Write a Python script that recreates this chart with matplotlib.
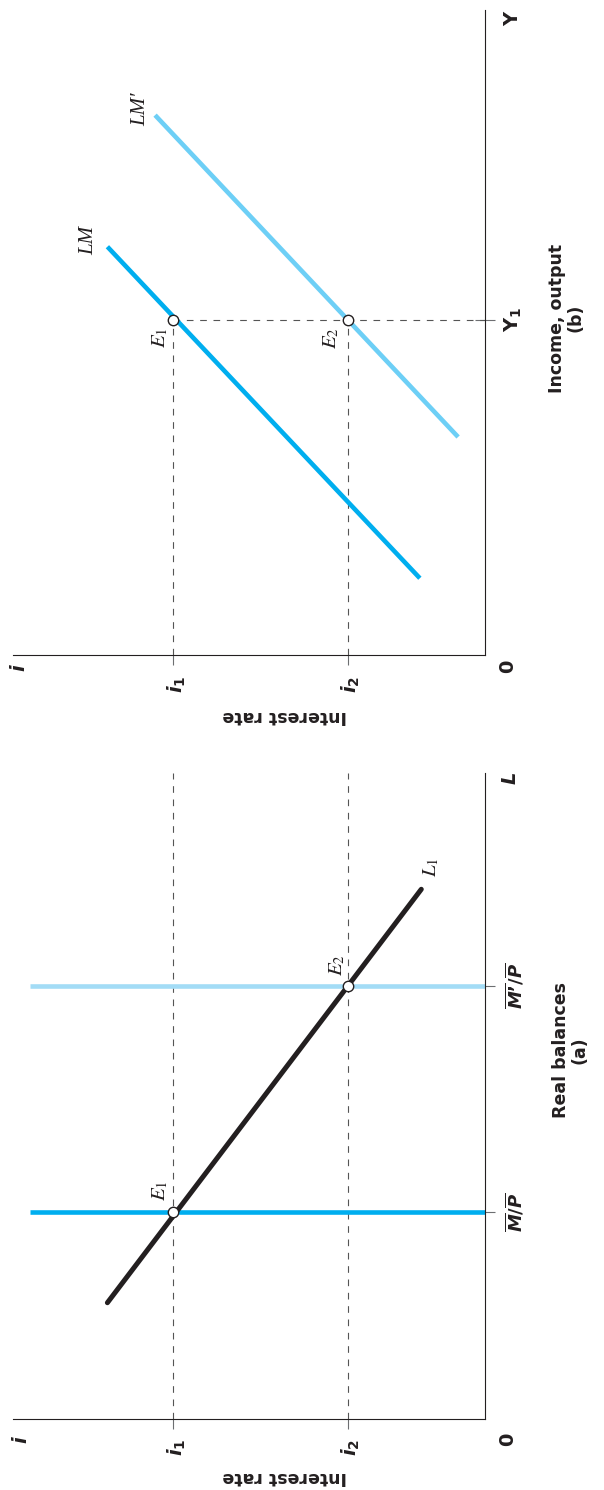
import matplotlib
matplotlib.use("Agg")
import matplotlib.pyplot as plt

plt.rcParams['mathtext.fontset'] = 'stix'
plt.rcParams['mathtext.rm'] = 'DejaVu Sans:bold'
plt.rcParams['mathtext.it'] = 'DejaVu Sans:italic:bold'
plt.rcParams['mathtext.bf'] = 'DejaVu Sans:bold'
plt.rcParams['font.family'] = ['DejaVu Sans']

# ---------------- data ----------------
i_levels = [6.6, 2.9]                 # i1, i2 (interest rate)
i_labels = [r'$i_1$', r'$i_2$']
# panel (a): real balances
real_supply = [3.2, 6.7]              # M/P, M'/P
supply_labels = ['$\\overline{M}/\\overline{P}$', '$\\overline{M\u2019}/\\overline{P}$']
supply_top_i = 9.65
L1_i = [8.0, 1.35]
L1_L = [1.8, 8.2]
# panel (b): income
Y1 = 5.2
LM_i = [1.38, 8.0]
LM_Y = [1.19, 6.33]
LMp_i = [0.57, 6.99]
LMp_Y = [3.38, 8.37]

BLACK = '#231f20'
BLUE = '#00aeef'
LIGHT = '#6dcff6'
PALE = '#a3dcf6'
DASH = '#555555'
TICK = '#6d6e71'

W, H = 604, 1490
fig = plt.figure(figsize=(W / 100, H / 100), dpi=100)

axa = fig.add_axes([13 / W, 71 / H, 472 / W, 646 / H])
axb = fig.add_axes([13 / W, 835 / H, 472 / W, 645 / H])

for ax in (axa, axb):
    ax.set_xlim(10, 0)
    ax.set_ylim(0, 10)
    ax.spines['top'].set_visible(False)
    ax.spines['left'].set_visible(False)
    ax.spines['bottom'].set_color(BLACK)
    ax.spines['right'].set_color(BLACK)
    ax.spines['bottom'].set_linewidth(0.8)
    ax.spines['right'].set_linewidth(0.8)
    ax.yaxis.tick_right()
    ax.set_xticks(i_levels)
    ax.set_xticklabels([])
    ax.tick_params(axis='x', direction='out', length=7, width=0.8, color=TICK)
    ax.set_yticklabels([])
    ax.patch.set_alpha(0)

lab_kw = dict(textcoords='offset pixels', ha='center', va='center', color=BLACK)
bold_kw = dict(lab_kw, fontsize=14, math_fontfamily='custom')
ser_kw = dict(lab_kw, fontsize=15, math_fontfamily='stix', rotation=90)
serif_txt = dict(lab_kw, fontsize=15, family='Liberation Serif', style='italic', rotation=90)

# ---------------- panel (a) ----------------
axa.set_yticks(real_supply)
axa.tick_params(axis='y', direction='out', length=7, width=0.8, color=TICK)
for il in i_levels:
    axa.plot([il, il], [0, 10], color=DASH, lw=0.8, dashes=(6, 6))
axa.plot([0, supply_top_i], [real_supply[0]] * 2, color=BLUE, lw=3.3, solid_capstyle='butt')
axa.plot([0, supply_top_i], [real_supply[1]] * 2, color=PALE, lw=3.3, solid_capstyle='butt')
axa.plot(L1_i, L1_L, color=BLACK, lw=3.6, solid_capstyle='round')
axa.plot(i_levels, real_supply, 'o', ms=7.5, mfc='white', mec=BLACK, mew=1.0, zorder=5)

axa.annotate(r'$E_1$', xy=(i_levels[0], real_supply[0]), xytext=(-13, 22), **ser_kw)
axa.annotate(r'$E_2$', xy=(i_levels[1], real_supply[1]), xytext=(-11, 21), **ser_kw)
axa.annotate(r'$L_1$', xy=(L1_i[1], L1_L[1]), xytext=(10, 22), **ser_kw)

axa.annotate(r'$i$', xy=(10, 0), xytext=(9, -21), rotation=90, **bold_kw)
for il, lb in zip(i_levels, i_labels):
    axa.annotate(lb, xy=(il, 0), xytext=(3, -28), rotation=90, **bold_kw)
axa.annotate(r'$\mathrm{0}$', xy=(0, 0), xytext=(24, -21), rotation=90, **bold_kw)
axa.annotate(r'$L$', xy=(0, 10), xytext=(25, -5), rotation=90, **bold_kw)
for v, lb in zip(real_supply, supply_labels):
    axa.annotate(lb, xy=(0, v), xytext=(30, 0), rotation=90, **dict(bold_kw, fontsize=13))
axa.annotate('Interest rate', xy=(0, 0), xycoords='axes fraction', xytext=(272, -58),
             rotation=180, fontsize=12.5, fontweight='bold', **lab_kw)
axa.annotate('Real balances\n(a)', xy=(1, 0), xycoords='axes fraction', xytext=(85, 369),
             rotation=90, fontsize=12.5, fontweight='bold', multialignment='center',
             linespacing=1.0, **lab_kw)

# ---------------- panel (b) ----------------
axb.set_yticks([Y1])
axb.tick_params(axis='y', direction='inout', length=14, width=0.8, color=TICK)
for il in i_levels:
    axb.plot([il, il], [0, Y1], color=DASH, lw=0.8, dashes=(6, 6))
axb.plot([i_levels[0], 0], [Y1, Y1], color=DASH, lw=0.8, dashes=(6, 6))
axb.plot(LM_i, LM_Y, color=BLUE, lw=3.3, solid_capstyle='butt')
axb.plot(LMp_i, LMp_Y, color=LIGHT, lw=3.3, solid_capstyle='butt')
axb.plot(i_levels, [Y1, Y1], 'o', ms=7.5, mfc='white', mec=BLACK, mew=1.0, zorder=5)

axb.annotate(r'$E_1$', xy=(i_levels[0], Y1), xytext=(-13, -18), **ser_kw)
axb.annotate(r'$E_2$', xy=(i_levels[1], Y1), xytext=(-17, -19), **ser_kw)
axb.annotate('LM', xy=(LM_i[1], LM_Y[1]), xytext=(-19, 6), **serif_txt)
axb.annotate('LM\u2032', xy=(LMp_i[1], LMp_Y[1]), xytext=(-14, 6), **serif_txt)

axb.annotate(r'$i$', xy=(10, 0), xytext=(7, -13), rotation=90, **bold_kw)
for il, lb in zip(i_levels, i_labels):
    axb.annotate(lb, xy=(il, 0), xytext=(3, -29), rotation=90, **bold_kw)
axb.annotate(r'$\mathrm{0}$', xy=(0, 0), xytext=(24, -12), rotation=90, **bold_kw)
axb.annotate(r'$\mathrm{Y}$', xy=(0, 10), xytext=(27, -8), rotation=90, **bold_kw)
axb.annotate(r'$\mathrm{Y}_1$', xy=(0, Y1), xytext=(28, 0), rotation=90, **bold_kw)
axb.annotate('Interest rate', xy=(0, 0), xycoords='axes fraction', xytext=(272, -61),
             rotation=180, fontsize=12.5, fontweight='bold', **lab_kw)
axb.annotate('Income, output\n(b)', xy=(1, 0), xycoords='axes fraction', xytext=(81, 337),
             rotation=90, fontsize=12.5, fontweight='bold', multialignment='center',
             linespacing=1.0, **lab_kw)

fig.savefig('out.png', dpi=100)
